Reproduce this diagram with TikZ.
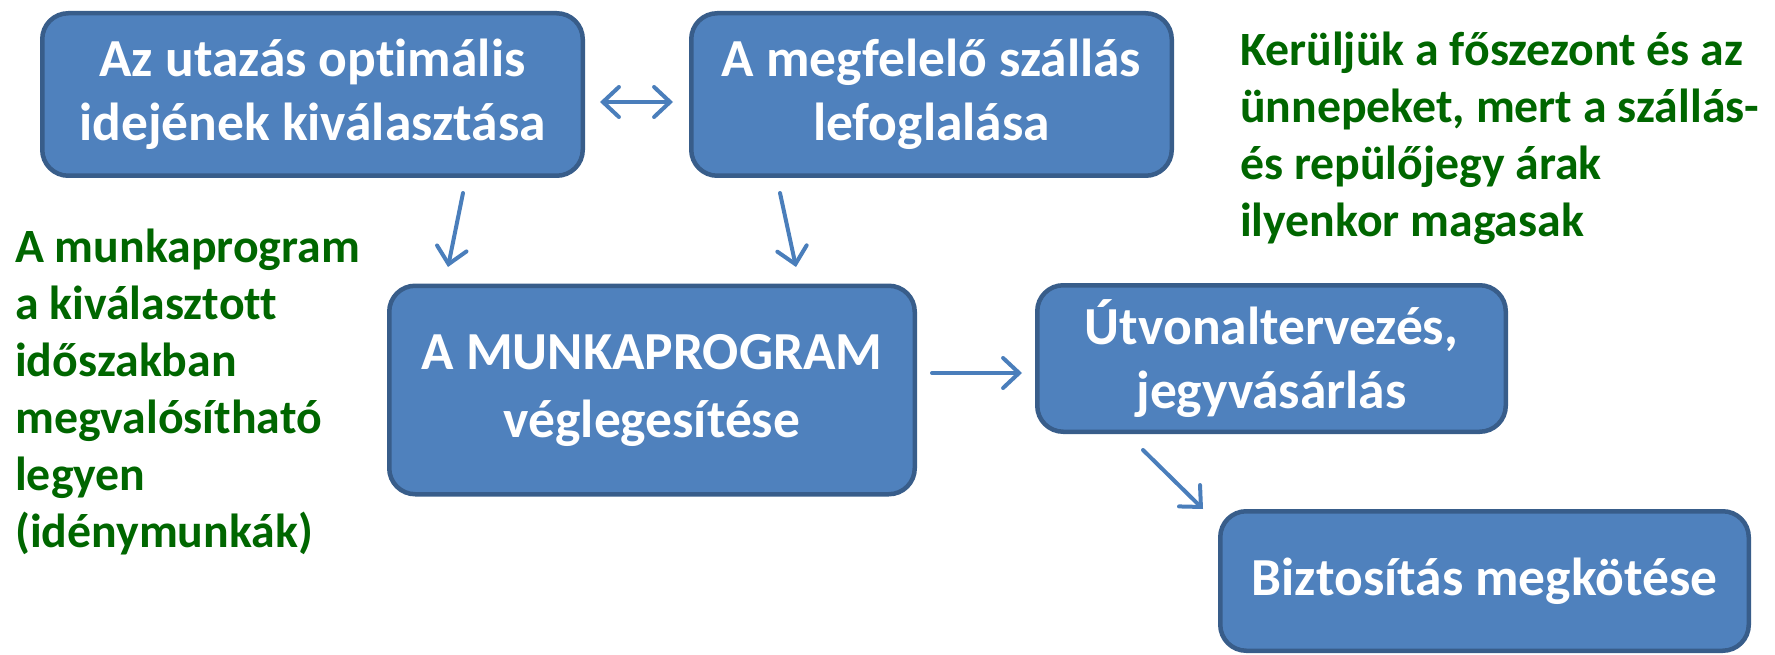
\documentclass[tikz,border=0pt]{standalone}
\usepackage{fontspec}
\setmainfont{Carlito}[Ligatures={NoCommon}]
\usetikzlibrary{arrows.meta}
\definecolor{boxfill}{HTML}{4F81BD}
\definecolor{boxline}{HTML}{385D8A}
\definecolor{arrowc}{HTML}{4A7EBB}
\definecolor{notegreen}{HTML}{006600}
\tikzset{
  stepbox/.style={draw=boxline, fill=boxfill, line width=4.5pt, rounded corners=26pt,
    text=white, align=center, inner sep=0pt,
    font=\fontsize{53.5}{64}\selectfont\bfseries},
  note/.style={text=notegreen, align=left, inner sep=0pt, anchor=north west,
    font=\fontsize{47.8}{57}\selectfont\bfseries},
  link/.style={draw=arrowc, line width=4pt, line cap=round,
    -{Straight Barb[length=16pt,width=30pt,line cap=round]}},
  dlink/.style={draw=arrowc, line width=4pt, line cap=round,
    {Straight Barb[length=16pt,width=30pt,line cap=round]}-{Straight Barb[length=16pt,width=30pt,line cap=round]}}
}
\begin{document}
\begin{tikzpicture}[x=1pt,y=-1pt]
\useasboundingbox (0,0) rectangle (1775,655);
\node[stepbox, minimum width=540.5pt, minimum height=162.5pt] (b1) at (312.5,94.5) {Az utazás optimális\\idejének kiválasztása};
\node[stepbox, minimum width=480.5pt, minimum height=162.5pt] (b2) at (931.5,94.5) {A megfelelő szállás\\lefoglalása};
\node[stepbox, minimum width=525.5pt, minimum height=208.5pt, font=\fontsize{53.5}{68}\selectfont\bfseries] (b3) at (652,390) {A MUNKAPROGRAM\\véglegesítése};
\node[stepbox, minimum width=468.5pt, minimum height=146.5pt] (b4) at (1271.5,358.5) {Útvonaltervezés,\\jegyvásárlás};
\node[stepbox, minimum width=528.5pt, minimum height=139.5pt] (b5) at (1484.5,581) {Biztosítás megkötése};
\node[note] (n1) at (15,229) {A munkaprogram\\a kiválasztott\\időszakban\\megvalósítható\\legyen\\(idénymunkák)};
\node[note] (n2) at (1240,32) {Kerüljük a főszezont és az\\ünnepeket, mert a szállás-\\és repülőjegy árak\\ilyenkor magasak};
\coordinate (d1) at (600,102);
\coordinate (d2) at (673,102);
\coordinate (a1s) at (463,193);
\coordinate (a1e) at (448,267);
\coordinate (a2s) at (780,193);
\coordinate (a2e) at (796,267);
\coordinate (a3s) at (932,373);
\coordinate (a3e) at (1022,373);
\coordinate (a4s) at (1143,450);
\coordinate (a4e) at (1203,509);
\draw[dlink] (d1) -- (d2);
\draw[link] (a1s) -- (a1e);
\draw[link] (a2s) -- (a2e);
\draw[link] (a3s) -- (a3e);
\draw[link] (a4s) -- (a4e);
\end{tikzpicture}
\end{document}
